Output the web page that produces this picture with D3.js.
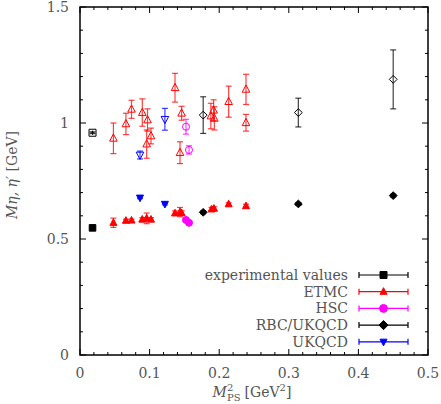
<!DOCTYPE html>
<html>
<head>
<meta charset="utf-8">
<script src="https://cdn.jsdelivr.net/npm/d3@7"></script>
<style>
  body { margin: 0; background: #fff; }
  svg text { fill: #555; font-family: "DejaVu Serif", "Liberation Serif", "Times New Roman", serif; }
</style>
</head>
<body>
<div class="container"></div>
<script>
// ---- data ----
// experimental values
const expX = [0.018];
const expEta = [0.548];
const expEtaP = [0.958];

// ETMC eta' (open triangles)
const etmcPX = [0.048, 0.066, 0.074, 0.0895, 0.097, 0.102, 0.0958, 0.1365, 0.146, 0.1437, 0.188, 0.192, 0.193, 0.2136, 0.2385, 0.2385];
const etmcPY = [0.934, 0.996, 1.059, 1.045, 1.013, 0.944, 0.909, 1.152, 1.042, 0.872, 1.03, 1.055, 1.02, 1.092, 1.145, 1.001];
const etmcPE = [0.066, 0.046, 0.039, 0.059, 0.048, 0.034, 0.061, 0.062, 0.030, 0.047, 0.055, 0.045, 0.050, 0.067, 0.065, 0.036];
// ETMC eta (filled triangles)
const etmcX = [0.048, 0.066, 0.074, 0.0895, 0.0958, 0.102, 0.1365, 0.1437, 0.146, 0.189, 0.1925, 0.2136, 0.2385];
const etmcY = [0.570, 0.579, 0.580, 0.584, 0.589, 0.584, 0.611, 0.616, 0.612, 0.628, 0.631, 0.650, 0.642];
const etmcE = [0.020, 0.006, 0.006, 0.008, 0.023, 0.008, 0.010, 0.020, 0.010, 0.008, 0.008, 0.006, 0.008];

// HSC
const hscX = [0.1523, 0.1566];
const hscPY = [0.984, 0.884];
const hscPE = [0.032, 0.018];
const hscY = [0.582, 0.570];
const hscE = [0.008, 0.008];

// RBC/UKQCD
const rbcX = [0.177, 0.3137, 0.450];
const rbcPY = [1.034, 1.045, 1.188];
const rbcPE = [0.079, 0.062, 0.127];
const rbcY = [0.615, 0.651, 0.687];
const rbcE = [0.006, 0.006, 0.006];

// UKQCD
const ukX = [0.0862, 0.122];
const ukPY = [0.862, 1.016];
const ukPE = [0.017, 0.047];
const ukY = [0.678, 0.651];
const ukE = [0.004, 0.004];

const xTicks = [0, 0.1, 0.2, 0.3, 0.4, 0.5];
const yTicks = [0, 0.5, 1, 1.5];

const legendNames = ["experimental values", "ETMC", "HSC", "RBC/UKQCD", "UKQCD"];
const legendColors = ["#000", "#f00", "#f0f", "#000", "#00f"];
const legendShapes = ["square", "triangle", "circle", "diamond", "down"];

// ---- chart ----
const svgWidth = 441, svgHeight = 404;
const margin = { top: 7, right: 13, bottom: 49, left: 80 };
const width = svgWidth - margin.left - margin.right;
const height = svgHeight - margin.top - margin.bottom;

const svg = d3.select(".container").append("svg")
    .attr("width", svgWidth)
    .attr("height", svgHeight);

const chartGroup = svg.append("g")
    .attr("transform", `translate(${margin.left}, ${margin.top})`);

const x = d3.scaleLinear().domain([0, 0.5]).range([0, width]);
const y = d3.scaleLinear().domain([0, 1.5]).range([height, 0]);

// ticks (inward, mirrored on all sides)
const xMinor = d3.range(0, 0.5001, 0.02);
const yMinor = d3.range(0, 1.5001, 0.1);
const isMajor = (v, step) => Math.abs(v / step - Math.round(v / step)) < 1e-6;

const tickG = chartGroup.append("g").attr("stroke", "#000").attr("stroke-width", 1);
xMinor.forEach(v => {
    const len = isMajor(v, 0.1) ? 6 : 3;
    tickG.append("line").attr("x1", x(v)).attr("x2", x(v)).attr("y1", height).attr("y2", height - len);
    tickG.append("line").attr("x1", x(v)).attr("x2", x(v)).attr("y1", 0).attr("y2", len);
});
yMinor.forEach(v => {
    const len = isMajor(v, 0.5) ? 6 : 3;
    tickG.append("line").attr("x1", 0).attr("x2", len).attr("y1", y(v)).attr("y2", y(v));
    tickG.append("line").attr("x1", width).attr("x2", width - len).attr("y1", y(v)).attr("y2", y(v));
});

chartGroup.append("rect")
    .attr("width", width).attr("height", height)
    .attr("fill", "none").attr("stroke", "#000").attr("stroke-width", 1.5);

// tick labels
chartGroup.selectAll(".xlab").data(xTicks).enter().append("text")
    .attr("x", d => x(d)).attr("y", height + 23)
    .attr("text-anchor", "middle").style("font-size", "14px")
    .text(d => d3.format("")(d));
chartGroup.selectAll(".ylab").data(yTicks).enter().append("text")
    .attr("x", -11).attr("y", d => y(d) + 5)
    .attr("text-anchor", "end").style("font-size", "14px")
    .text(d => d3.format("")(d));

// x axis title, pieces chained by measured width
const xt = chartGroup.append("g").attr("transform", `translate(0, ${height + 42})`);
const pieces = [
    { t: "M", size: 14, dy: 0, italic: true },
    { t: "2", size: 10, dy: -6, stack: true },
    { t: "PS", size: 10, dy: 4 },
    { t: "[GeV", size: 14, dy: 0, pad: 4 },
    { t: "2", size: 10, dy: -6 },
    { t: "]", size: 14, dy: 0 }
];
let cursor = 0, stackStart = 0;
const nodes = pieces.map(p => {
    if (p.pad) cursor += p.pad;
    const node = xt.append("text")
        .attr("x", p.stack === undefined && p.t === "PS" ? stackStart : cursor)
        .attr("y", p.dy)
        .style("font-size", p.size + "px")
        .style("font-style", p.italic ? "italic" : "normal")
        .text(p.t);
    const w = node.node().getComputedTextLength();
    if (p.stack) { stackStart = cursor; }
    else if (p.t === "PS") { cursor = stackStart + w; }
    else cursor += w;
    return node;
});
// centre the whole title
xt.attr("transform", `translate(${width / 2 - 2 - cursor / 2}, ${height + 42})`);

const yTitle = chartGroup.append("text")
    .attr("transform", `translate(${-63}, ${height / 2 - 6}) rotate(-90)`)
    .attr("text-anchor", "middle").style("font-size", "14px");
yTitle.append("tspan").style("font-style", "italic").text("M\u03b7, \u03b7\u2032");
yTitle.append("tspan").text(" [GeV]");

// symbols
function symbolPath(shape, s) {
    if (shape === "square") return `M${-s},${-s}H${s}V${s}H${-s}Z`;
    if (shape === "squareplus") return `M${-s},${-s}H${s}V${s}H${-s}Z M${-s * 0.6},0H${s * 0.6} M0,${-s * 0.6}V${s * 0.6}`;
    if (shape === "triangle") return `M0,${-s * 1.15}L${s},${s * 0.75}L${-s},${s * 0.75}Z`;
    if (shape === "down") return `M0,${s * 1.15}L${s},${-s * 0.75}L${-s},${-s * 0.75}Z`;
    if (shape === "diamond") return `M0,${-s * 1.3}L${s * 1.3},0L0,${s * 1.3}L${-s * 1.3},0Z`;
    return d3.arc()({ innerRadius: 0, outerRadius: s * 1.1, startAngle: 0, endAngle: 2 * Math.PI });
}

function drawSeries(xs, ys, es, color, shape, filled, size) {
    const pts = xs.map((d, i) => ({ x: d, y: ys[i], e: es ? es[i] : 0 }));
    const g = chartGroup.append("g");
    const eb = g.selectAll(".eb").data(pts).enter().append("g")
        .attr("stroke", color).attr("stroke-opacity", 0.75).attr("stroke-width", 1.2);
    eb.append("line")
        .attr("x1", d => x(d.x)).attr("x2", d => x(d.x))
        .attr("y1", d => y(d.y - d.e)).attr("y2", d => y(d.y + d.e));
    [-1, 1].forEach(sgn => {
        eb.append("line")
            .attr("x1", d => x(d.x) - 3).attr("x2", d => x(d.x) + 3)
            .attr("y1", d => y(d.y + sgn * d.e)).attr("y2", d => y(d.y + sgn * d.e));
    });
    g.selectAll(".pt").data(pts).enter().append("path")
        .attr("transform", d => `translate(${x(d.x)}, ${y(d.y)})`)
        .attr("d", symbolPath(shape, size))
        .attr("fill", filled ? color : "none")
        .attr("stroke", color).attr("stroke-width", 1);
}

// eta' (open)
drawSeries(etmcPX, etmcPY, etmcPE, "#f00", "triangle", false, 3.8);
drawSeries(hscX, hscPY, hscPE, "#f0f", "circle", false, 3.2);
drawSeries(rbcX, rbcPY, rbcPE, "#000", "diamond", false, 3);
drawSeries(ukX, ukPY, ukPE, "#00f", "down", false, 3.8);
// eta (filled)
drawSeries(etmcX, etmcY, etmcE, "#f00", "triangle", true, 3.5);
drawSeries(hscX, hscY, hscE, "#f0f", "circle", true, 3.2);
drawSeries(rbcX, rbcY, rbcE, "#000", "diamond", true, 3);
drawSeries(ukX, ukY, ukE, "#00f", "down", true, 3.5);

// experimental values
drawSeries(expX, expEta, null, "#000", "square", true, 3.3);
drawSeries(expX, expEtaP, [0.004], "#000", "squareplus", false, 3.5);

// legend
const legend = chartGroup.append("g");
legendNames.forEach((name, i) => {
    const ly = 268 + i * 16.7;
    const row = legend.append("g").attr("transform", `translate(0, ${ly})`);
    row.append("text")
        .attr("x", 268).attr("y", 5)
        .attr("text-anchor", "end").style("font-size", "14px")
        .text(name);
    const col = legendColors[i];
    row.append("line").attr("x1", 279).attr("x2", 328).attr("y1", 0).attr("y2", 0)
        .attr("stroke", col).attr("stroke-width", 1.2);
    [279, 328].forEach(cx => row.append("line")
        .attr("x1", cx).attr("x2", cx).attr("y1", -3).attr("y2", 3)
        .attr("stroke", col).attr("stroke-width", 1.2));
    row.append("path")
        .attr("transform", "translate(303.5, 0)")
        .attr("d", symbolPath(legendShapes[i], legendShapes[i] === "circle" ? 3.6 : 3.5))
        .attr("fill", col).attr("stroke", col);
});
</script>
</body>
</html>
